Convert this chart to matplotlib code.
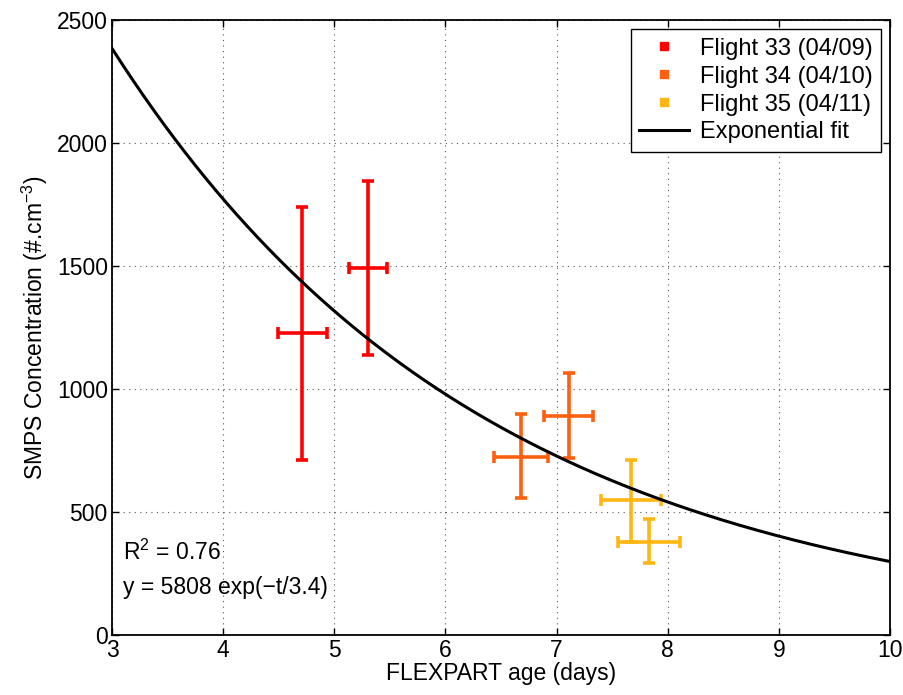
import numpy as np
import matplotlib
matplotlib.use("Agg")
import matplotlib.pyplot as plt
from matplotlib.lines import Line2D

plt.rcParams['font.family'] = ['Liberation Sans', 'DejaVu Sans']
plt.rcParams['mathtext.fontset'] = 'custom'
plt.rcParams['mathtext.rm'] = 'Liberation Sans'
plt.rcParams['mathtext.it'] = 'Liberation Sans:italic'

# flight data
flights = ['Flight 33 (04/09)', 'Flight 34 (04/10)', 'Flight 35 (04/11)']
colors = ['#FF0000', '#FF6010', '#FFB612']
age = [[4.71, 5.30], [6.68, 7.11], [7.67, 7.83]]
age_err = [[0.22, 0.17], [0.24, 0.22], [0.27, 0.28]]
conc = [[1226, 1493], [725, 891], [549, 379]]
conc_lo = [[711, 1138], [556, 721], [379, 291]]
conc_hi = [[1741, 1847], [897, 1064], [711, 470]]

# exponential fit parameters
fit_a = 5808
fit_tau = 3.37
r2 = 0.76

fs = 16.5

fig = plt.figure(figsize=(9.04, 6.95), dpi=100)
ax = fig.add_axes([0.1239, 0.0863, 0.8606, 0.8849])

handles = []
for i in range(3):
    y = np.array(conc[i])
    yerr = [y - np.array(conc_lo[i]), np.array(conc_hi[i]) - y]
    ax.errorbar(age[i], y, xerr=age_err[i], yerr=yerr, fmt='none',
                ecolor=colors[i], elinewidth=2.6, capsize=4.5, capthick=2.6, zorder=3)
    handles.append(Line2D([], [], ls='none', marker='s', color=colors[i], markersize=6))

t = np.linspace(3, 10, 300)
ax.plot(t, fit_a * np.exp(-t / fit_tau), color='black', lw=2.2, zorder=4)
handles.append(Line2D([], [], color='black', lw=2.2))

ax.set_xlim(3, 10)
ax.set_ylim(0, 2500)
ax.set_xticks(range(3, 11))
ax.set_yticks(range(0, 2501, 500))
ax.grid(True, ls=(0, (1, 4)), color='#555555', lw=0.8)
ax.tick_params(direction='in', top=True, right=True, length=5, width=1, labelsize=fs, pad=3)
for s in ax.spines.values():
    s.set_linewidth(1.3)

ax.set_xlabel('FLEXPART age (days)', fontsize=fs, labelpad=0)
ax.set_ylabel('SMPS Concentration (#.cm$^{-3}$)', fontsize=fs, labelpad=5)

ax.text(0.014, 0.122, 'R$^2$ = %.2f' % r2, transform=ax.transAxes, fontsize=fs, va='baseline')
ax.text(0.014, 0.067, 'y = %d exp(\u2212t/3.4)' % fit_a, transform=ax.transAxes, fontsize=fs,
        va='baseline')

leg = ax.legend(handles, flights + ['Exponential fit'], loc='upper right', fontsize=17,
                fancybox=False, edgecolor='black', framealpha=1, handlelength=2.1,
                borderaxespad=0.4, labelspacing=0.25, handletextpad=0.45, borderpad=0.35)
leg.get_frame().set_linewidth(1.0)

fig.savefig('out.png', dpi=100)
